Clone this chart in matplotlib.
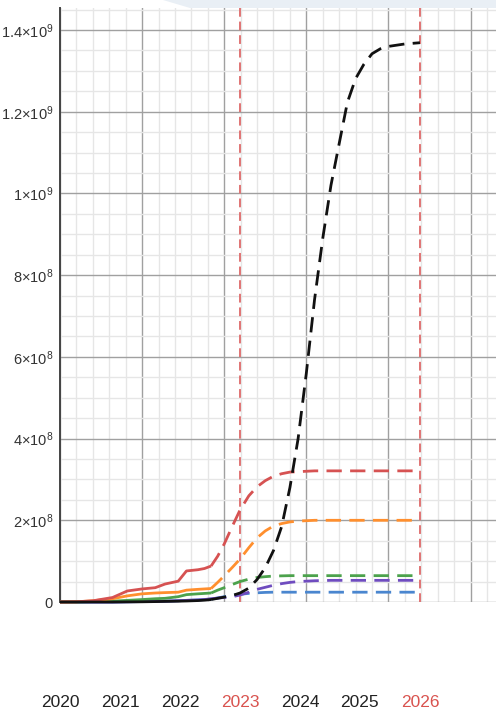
import matplotlib.pyplot as plt
from matplotlib.patches import Polygon
from matplotlib.ticker import MultipleLocator, FixedLocator, FixedFormatter

plt.rcParams['font.family'] = ['Liberation Sans', 'DejaVu Sans']
plt.rcParams['mathtext.fontset'] = 'custom'
plt.rcParams['mathtext.rm'] = 'Liberation Sans'
plt.rcParams['mathtext.it'] = 'Liberation Sans:italic'

# x values are days counted from 2020-01-01, y values are in millions
hist_days = [0, 100, 200, 320, 410, 500, 580, 640, 720, 770, 840, 880, 920]
proj_days = [920, 960, 1000, 1050, 1096, 1150, 1200, 1250, 1300, 1350, 1400, 1450,
             1500, 1550, 1600, 1650, 1700, 1750, 1800, 1850, 1900, 1950, 2000, 2100, 2192]

red_hist = [0, 0.5, 3, 11, 27, 32, 35, 44, 51, 76, 79, 82, 88]
orange_hist = [0, 0.5, 3, 8, 15, 20, 22, 23, 24, 29, 31, 32, 33]
green_hist = [0, 0, 1, 2, 4, 6, 8, 9, 13, 18, 20, 21, 22]
purple_hist = [0, 0, 0, 0, 0.5, 1, 1.5, 2, 3, 4, 5, 6, 8]
blue_hist = [0, 0, 0, 0, 0.5, 1, 1.5, 2, 3, 4, 5, 6, 7]
black_hist = [0, 0, 0, 0, 0.3, 0.5, 1, 1.5, 2, 2.5, 3.5, 4.5, 6]

red_proj = [88, 112, 142, 186, 225, 260, 282, 297, 308, 314, 318, 319,
            320, 321, 321, 321, 321, 321, 321, 321, 321, 321, 321, 321, 321]
orange_proj = [33, 48, 64, 85, 105, 133, 157, 174, 186, 192, 196, 198,
               199, 200, 200, 200, 200, 200, 200, 200, 200, 200, 200, 200, 200]
green_proj = [22, 29, 35, 43, 50, 56, 60, 62, 63.5, 64, 64.5, 64.5,
              64.5, 64.5, 64.5, 64.5, 64.5, 64.5, 64.5, 64.5, 64.5, 64.5, 64.5, 64.5, 64.5]
purple_proj = [8, 9.5, 11, 13, 17, 24, 31, 36, 41, 45, 48, 50,
               51, 52, 52.5, 53, 53, 53, 53, 53, 53, 53, 53, 53, 53]
blue_proj = [7, 10, 13, 16, 19, 21, 22.5, 23.5, 24, 24, 24, 24,
             24, 24, 24, 24, 24, 24, 24, 24, 24, 24, 24, 24, 24]
black_proj = [6, 9, 12, 16, 22, 34, 55, 84, 126, 185, 280, 400,
              560, 740, 890, 1020, 1122, 1223, 1281, 1316, 1342, 1354, 1360, 1366, 1369]

years = [2020, 2021, 2022, 2023, 2024, 2025, 2026]
marked_years = [2023, 2026]

y_ticks = [0, 2e8, 4e8, 6e8, 8e8, 1e9, 1.2e9, 1.4e9]
y_labels = ['0', r'$2{\times}10^{8}$', r'$4{\times}10^{8}$', r'$6{\times}10^{8}$',
            r'$8{\times}10^{8}$', r'$1{\times}10^{9}$', r'$1.2{\times}10^{9}$',
            r'$1.4{\times}10^{9}$']

series = [
    (blue_hist, blue_proj, '#4a86cf'),
    (purple_hist, purple_proj, '#6f4cbf'),
    (green_hist, green_proj, '#4ca24c'),
    (orange_hist, orange_proj, '#ff8f2e'),
    (red_hist, red_proj, '#d65252'),
    (black_hist, black_proj, '#111111'),
]

W, H = 496, 715
fig = plt.figure(figsize=(W / 100, H / 100), dpi=100)
ax = fig.add_axes([60 / W, (H - 602) / H, (W - 60) / W, 594 / H])

def year_day(y):
    return (y - 2020) * 365.25

for hist, proj, color in series:
    ax.plot(hist_days, [v * 1e6 for v in hist], color=color, lw=2.0,
            solid_capstyle='butt', clip_on=False, zorder=3)
    ax.plot(proj_days, [v * 1e6 for v in proj], color=color, lw=2.0,
            dashes=(5.5, 3.0), clip_on=False, zorder=3)

for yr in marked_years:
    ax.axvline(year_day(yr), color='#e07474', lw=1.4, dashes=(4.5, 2.5), zorder=2)

ax.set_xlim(0, 2655)
ax.set_ylim(0, 1.454e9)

ax.xaxis.set_major_locator(MultipleLocator(500))
ax.xaxis.set_minor_locator(MultipleLocator(100))
ax.yaxis.set_major_locator(FixedLocator(y_ticks))
ax.yaxis.set_major_formatter(FixedFormatter(y_labels))
ax.yaxis.set_minor_locator(MultipleLocator(5e7))

ax.grid(which='major', color='#a0a0a0', lw=1.0, zorder=0)
ax.grid(which='minor', color='#e6e6e6', lw=1.0, zorder=0)
ax.set_axisbelow(True)

ax.tick_params(axis='x', which='both', length=0, labelbottom=False)
ax.tick_params(axis='y', which='both', length=0, pad=5, labelsize=10.5, labelcolor='#333333')

for side in ['top', 'right', 'bottom']:
    ax.spines[side].set_visible(False)
ax.spines['left'].set_color('#444444')
ax.spines['left'].set_linewidth(1.4)

for yr in years:
    ax.text(year_day(yr), -0.170, str(yr), transform=ax.get_xaxis_transform(),
            ha='center', va='center', fontsize=12.5,
            color='#d9534f' if yr in marked_years else '#222222')

# pale band along the top edge
band = [(163, 0), (190, 8), (W, 8), (W, 0)]
fig.patches.append(Polygon([(x / W, 1 - y / H) for x, y in band], closed=True,
                           transform=fig.transFigure, facecolor='#e9eff5',
                           edgecolor='none', zorder=0))

fig.savefig('out.png', dpi=100)
